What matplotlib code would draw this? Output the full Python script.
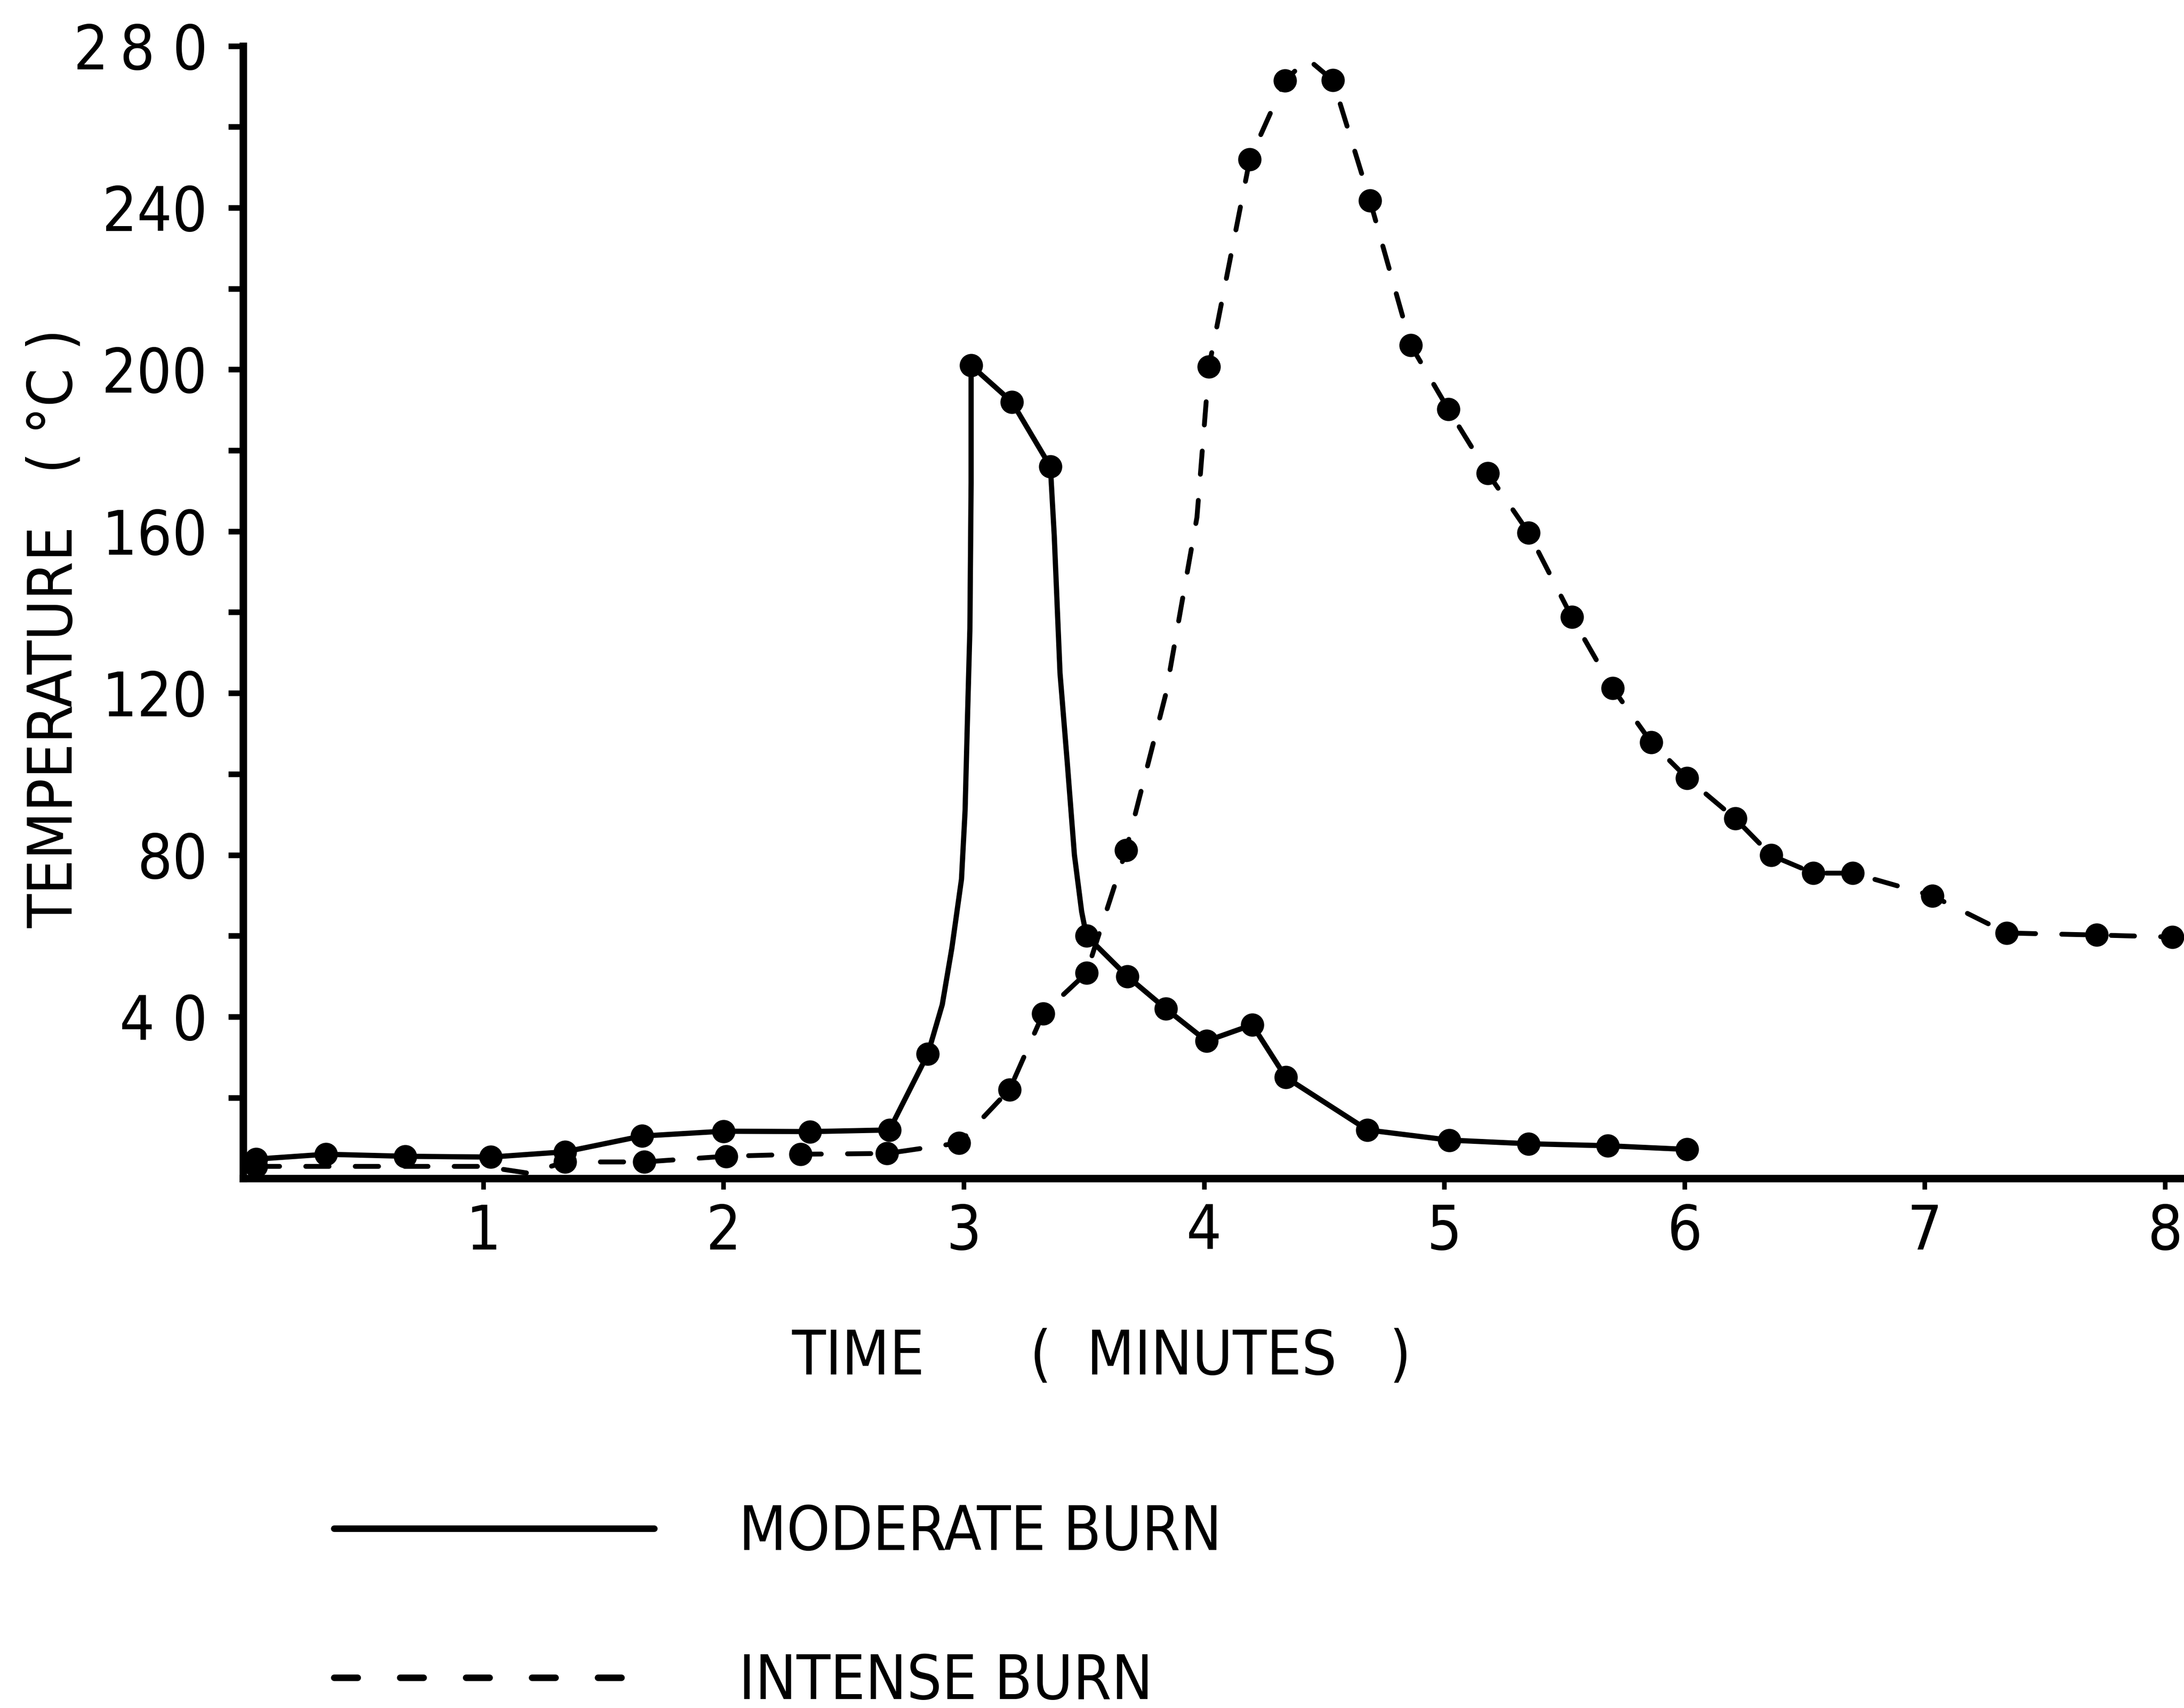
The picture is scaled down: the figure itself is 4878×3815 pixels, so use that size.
import os
import matplotlib
matplotlib.use("Agg")
import matplotlib.pyplot as plt
from matplotlib import font_manager
from matplotlib.font_manager import FontProperties
from matplotlib.lines import Line2D

# Moderate burn: measured points (dots) and the hand-drawn curve through them
moderate_t = [0.055, 0.345, 0.675, 1.03, 1.34, 1.66, 2.00, 2.36, 2.69, 2.85, 3.03, 3.20,
              3.36, 3.51, 3.68, 3.84, 4.01, 4.20, 4.34, 4.68, 5.02, 5.35, 5.68, 6.01]
moderate_temp = [4.8, 6.0, 5.5, 5.3, 6.6, 10.5, 11.7, 11.6, 12.0, 30.8, 201, 192,
                 176, 60, 50, 42, 34, 38, 25, 12, 9.5, 8.6, 8.1, 7.2]
moderate_curve_t = [0.055, 0.345, 0.675, 1.03, 1.34, 1.66, 2.00, 2.36, 2.69, 2.85, 2.91,
                    2.95, 2.99, 3.005, 3.015, 3.025, 3.03, 3.03, 3.20, 3.36, 3.376, 3.40,
                    3.43, 3.46, 3.49, 3.51, 3.68, 3.84, 4.01, 4.20, 4.34, 4.68, 5.02,
                    5.35, 5.68, 6.01]
moderate_curve_temp = [4.8, 6.0, 5.5, 5.3, 6.6, 10.5, 11.7, 11.6, 12.0, 30.8, 43,
                       57, 74, 91, 114, 136, 172, 201, 192, 176, 159, 125,
                       103, 80, 66, 60, 50, 42, 34, 38, 25, 12, 9.5,
                       8.6, 8.1, 7.2]

# Intense burn
intense_t = [0.055, 1.34, 1.67, 2.01, 2.32, 2.68, 2.98, 3.19, 3.33, 3.51, 3.675, 4.02,
             4.19, 4.336, 4.536, 4.69, 4.86, 5.016, 5.18, 5.35, 5.53, 5.70, 5.86, 6.01,
             6.21, 6.36, 6.535, 6.70, 7.03, 7.34, 7.715, 8.03]
intense_temp = [3.0, 4.1, 4.1, 5.5, 6.0, 6.2, 8.8, 22, 40.8, 50.8, 81.2, 200.7,
                252, 271.4, 271.5, 241.8, 206, 190.2, 174.4, 159.7, 138.8, 121.2, 107.9, 99,
                89, 79.9, 75.5, 75.5, 69.9, 60.7, 60.2, 59.7]
intense_curve_t = [0.055, 1.0, 1.19, 1.34, 1.67, 2.01, 2.32, 2.68, 2.98, 3.19, 3.33, 3.51,
                   3.675, 3.84, 3.97, 4.02, 4.19, 4.336, 4.43, 4.536, 4.69, 4.86, 5.016,
                   5.18, 5.35, 5.53, 5.70, 5.86, 6.01, 6.21, 6.36, 6.535, 6.70, 7.03,
                   7.34, 7.715, 8.03]
intense_curve_temp = [3.0, 3.0, 1.3, 4.1, 4.1, 5.5, 6.0, 6.2, 8.8, 22, 40.8, 50.8,
                      81.2, 119.7, 163.5, 200.7, 252, 271.4, 276.8, 271.5, 241.8, 206, 190.2,
                      174.4, 159.7, 138.8, 121.2, 107.9, 99, 89, 79.9, 75.5, 75.5, 69.9,
                      60.7, 60.2, 59.7]

x_ticks = [1, 2, 3, 4, 5, 6, 7, 8]
y_major = [40, 80, 120, 160, 200, 240, 280]
y_labels = ['4 0', '80', '120', '160', '200', '240', '2\u20098 0']
y_minor = [20, 60, 100, 140, 180, 220, 260]
legend_labels = ['MODERATE BURN', 'INTENSE BURN']


def narrow_font(size):
    # lettering is tall and narrow, so prefer any condensed sans that is installed
    wanted = ['LiberationSansNarrow-Regular', 'DejaVuSansCondensed.ttf',
              'NotoSans-Condensed.ttf', 'OpenSans-Condensed', 'RobotoCondensed-Regular']
    files = [f.fname for f in font_manager.fontManager.ttflist]
    for key in wanted:
        for fn in files:
            if key in os.path.basename(fn):
                return FontProperties(fname=fn, size=size), True
    return FontProperties(family='DejaVu Sans', size=size), False


fp, is_narrow = narrow_font(33)
if not is_narrow:
    fp.set_size(28)

fig = plt.figure(figsize=(4878 / 300, 3815 / 300), dpi=300)
ax = fig.add_axes([0.1113, 0.310, 0.8887, 0.6631])

line_kw = dict(color='black', solid_capstyle='round', solid_joinstyle='round',
               dash_capstyle='round')
ax.plot(moderate_curve_t, moderate_curve_temp, lw=2.8, ls='-', **line_kw)
ax.plot(intense_curve_t, intense_curve_temp, lw=2.6, ls=(0, (4.8, 5.4)), **line_kw)
ax.plot(moderate_t, moderate_temp, 'o', ms=11.5, color='black')
ax.plot(intense_t, intense_temp, 'o', ms=11.5, color='black')

ax.set_xlim(0, 8.078)
ax.set_ylim(0, 280)
ax.spines['top'].set_visible(False)
ax.spines['right'].set_visible(False)
for side in ('left', 'bottom'):
    ax.spines[side].set_linewidth(4)

ax.set_xticks(x_ticks)
ax.set_xticklabels([str(v) for v in x_ticks], fontproperties=fp)
ax.set_yticks(y_major)
ax.set_yticklabels(y_labels, fontproperties=fp)
ax.set_yticks(y_minor, minor=True)
ax.tick_params(axis='x', direction='out', length=6, width=2.5, pad=7)
ax.tick_params(axis='y', which='both', direction='out', length=8, width=3, pad=11)

ax.set_xlabel('TIME      (  MINUTES   )', fontproperties=fp)
ax.xaxis.set_label_coords(0.4422, -0.1315)
ax.set_ylabel('TEMPERATURE   ( °C )', fontproperties=fp)
ax.yaxis.set_label_coords(-0.0814, 0.4856)

handles = [Line2D([], [], color='black', lw=3.5, ls='-', solid_capstyle='round'),
           Line2D([], [], color='black', lw=3.5, ls=(0, (3.6, 6.5)), dash_capstyle='round')]
fig.legend(handles, legend_labels, loc='upper left', bbox_to_anchor=(0.153, 0.1197),
           frameon=False, borderpad=0, borderaxespad=0, handlelength=5.2,
           handletextpad=1.37, labelspacing=1.45, prop=fp)

fig.savefig('out.png', dpi=300)
